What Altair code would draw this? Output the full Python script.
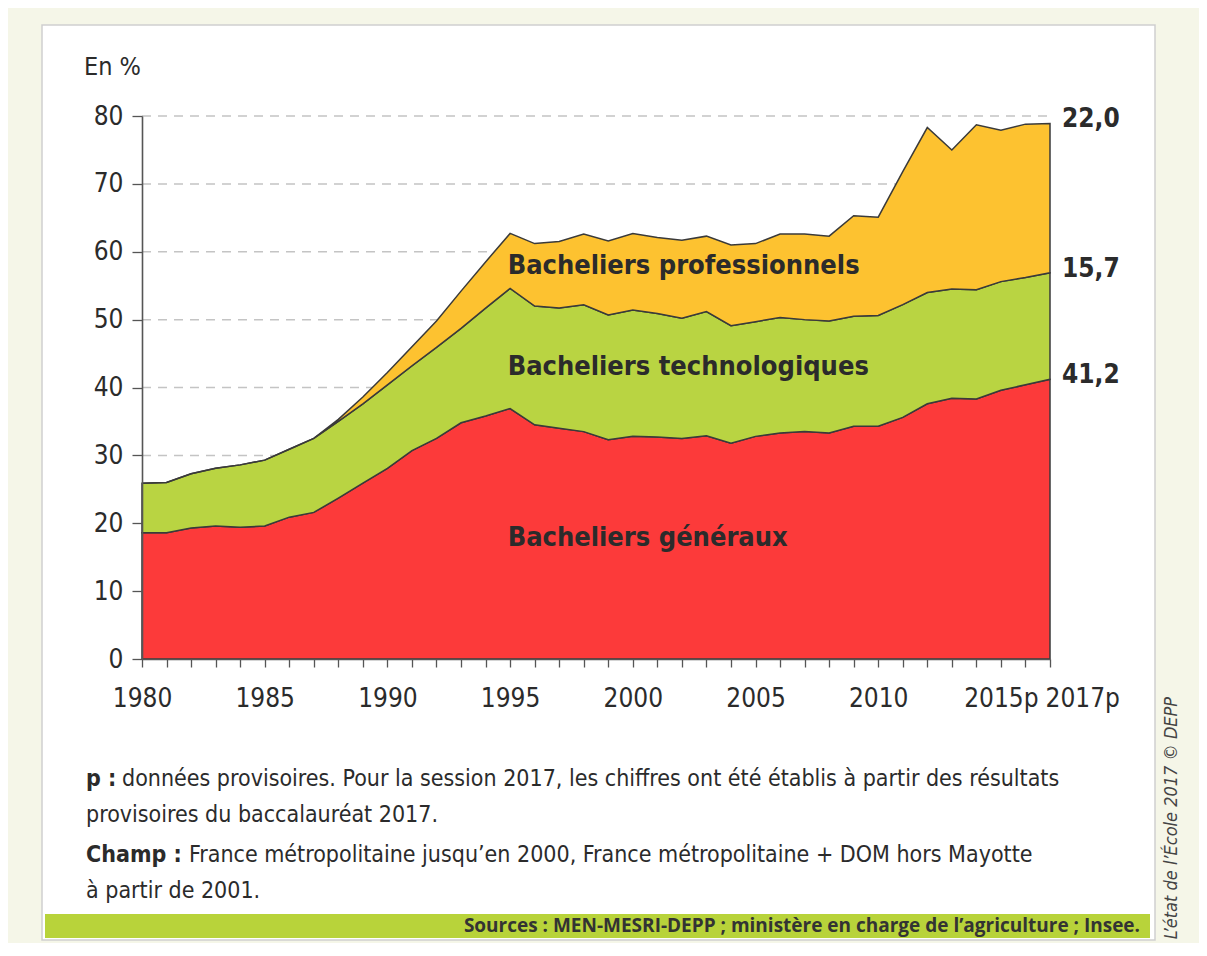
import altair as alt
import pandas as pd

years = list(range(1980, 2018))
generaux = [18.6, 18.6, 19.3, 19.6, 19.4, 19.6, 20.9, 21.6, 23.7, 25.9,
            28.1, 30.7, 32.5, 34.8, 35.8, 36.9, 34.5, 34.0, 33.5, 32.3,
            32.8, 32.7, 32.5, 32.9, 31.8, 32.8, 33.3, 33.5, 33.3, 34.3,
            34.3, 35.6, 37.6, 38.4, 38.3, 39.6, 40.4, 41.2]
technologiques = [7.3, 7.4, 8.0, 8.5, 9.2, 9.7, 10.0, 10.9, 11.3, 11.7,
                  12.3, 12.5, 13.4, 13.9, 15.9, 17.7, 17.5, 17.7, 18.7, 18.4,
                  18.6, 18.2, 17.7, 18.3, 17.3, 16.9, 17.0, 16.5, 16.5, 16.2,
                  16.3, 16.6, 16.4, 16.1, 16.1, 16.0, 15.8, 15.7]
professionnels = [0, 0, 0, 0, 0, 0, 0, 0, 0.3, 1.0,
                  1.8, 2.8, 3.9, 5.5, 6.8, 8.1, 9.2, 9.8, 10.4, 10.9,
                  11.3, 11.2, 11.5, 11.1, 11.9, 11.5, 12.3, 12.6, 12.5, 14.8,
                  14.5, 19.6, 24.3, 20.5, 24.3, 22.3, 22.6, 22.0]

series_names = ["Bacheliers généraux", "Bacheliers technologiques", "Bacheliers professionnels"]
series_colors = ["#fc3a3a", "#b9d442", "#fdc230"]
label_x = [1994.9, 1994.9, 1994.9]
label_y = [17.8, 43.0, 57.9]
y_ticks = list(range(0, 90, 10))
grid_values = list(range(10, 90, 10))

FONT = "DejaVu Sans Condensed, Liberation Sans Narrow, sans-serif"
TXT = "#2b2b2b"
W, H = 908, 543

# long table
rows = []
for i, y in enumerate(years):
    for k, vals in enumerate([generaux, technologiques, professionnels]):
        rows.append({"year": y, "serie": series_names[k], "value": vals[i], "ord": k})
df = pd.DataFrame(rows)

# end labels at the top of each stacked layer
last = [generaux[-1], technologiques[-1], professionnels[-1]]
cum = [sum(last[:k + 1]) for k in range(3)]
end_df = pd.DataFrame({
    "year": [years[-1]] * 3,
    "value": cum,
    "txt": [f"{v:.1f}".replace(".", ",") for v in last],
})
lab_df = pd.DataFrame({"year": label_x, "value": label_y, "txt": series_names})
one = pd.DataFrame({"a": [0]})

xscale = alt.Scale(domain=[years[0], years[-1]], nice=False, zero=False)
yscale = alt.Scale(domain=[0, 80], nice=False)

XAX = alt.Axis(values=years, grid=False, zindex=1,
               labelExpr="datum.value == 2015 ? '2015p' : datum.value == 2017 ? '2017p' : (datum.value % 5 == 0 ? format(datum.value, 'd') : '')",
               labelOverlap=False, labelFlush=False,
               labelAlign={"condition": {"test": "datum.value == 2017", "value": "left"}, "value": "center"},
               labelOffset={"condition": {"test": "datum.value == 2017", "value": -5}, "value": 0},
               tickSize=8, tickColor="#555", tickWidth=1.3,
               domainColor="#555", domainWidth=1.6,
               labelFont=FONT, labelFontSize=26, labelColor=TXT, labelPadding=18)
YAX = alt.Axis(values=y_ticks, grid=False, zindex=1, labelOverlap=False, labelFlush=False,
               tickSize=10, tickColor="#555", tickWidth=1.3,
               domainColor="#555", domainWidth=1.6,
               labelFont=FONT, labelFontSize=26, labelColor=TXT, labelPadding=9)


def X(field):
    return alt.X(field, scale=xscale, title=None, axis=XAX)


def Y(field, **kw):
    return alt.Y(field, scale=yscale, title=None, axis=YAX, **kw)


panel = alt.Chart(one).mark_rect(fill="white", stroke="#cfcfcf", strokeWidth=1.5).encode(
    x=alt.value(-100), x2=alt.value(1013), y=alt.value(-91), y2=alt.value(824))

src_bar = alt.Chart(one).mark_rect(fill="#b8d33a").encode(
    x=alt.value(-97), x2=alt.value(1008), y=alt.value(798), y2=alt.value(822))

grid = alt.Chart(pd.DataFrame({"value": grid_values})).mark_rule(
    color="#c4c4c4", strokeDash=[9, 7], strokeWidth=1.5).encode(
    y=Y("value:Q"), x=alt.value(0), x2=alt.value(912))

areas = alt.Chart(df).mark_area(stroke="#3a3a3a", strokeWidth=1.5, interpolate="linear").encode(
    x=X("year:Q"),
    y=Y("value:Q", stack="zero"),
    color=alt.Color("serie:N", scale=alt.Scale(domain=series_names, range=series_colors), legend=None),
    order=alt.Order("ord:Q", sort="ascending"),
)

labels = alt.Chart(lab_df).mark_text(font=FONT, fontSize=27, fontWeight="bold", color=TXT,
                                     align="left", baseline="middle").encode(
    x=X("year:Q"), y=Y("value:Q"), text="txt:N")

ends = alt.Chart(end_df).mark_text(font=FONT, fontSize=26, fontWeight="bold", color=TXT,
                                   align="left", baseline="middle", dx=12, dy=-4).encode(
    x=X("year:Q"), y=Y("value:Q"), text="txt:N")


def txt(s, x, y, size=23, weight="normal", align="left", angle=0, font=FONT, style="normal", color=TXT):
    return alt.Chart(one).mark_text(font=font, fontSize=size, fontWeight=weight, align=align,
                                    baseline="middle", angle=angle, fontStyle=style, color=color).encode(
        x=alt.value(x), y=alt.value(y), text=alt.value(s))


unit = txt("En %", -58, -49, size=25)
f1a = txt("p :", -56, 663, weight="bold")
f1b = txt("données provisoires. Pour la session 2017, les chiffres ont été établis à partir des résultats", -20, 663)
f2 = txt("provisoires du baccalauréat 2017.", -56, 699)
f3a = txt("Champ :", -56, 739, weight="bold")
f3b = txt("France métropolitaine jusqu’en 2000, France métropolitaine + DOM hors Mayotte", 47, 739)
f4 = txt("à partir de 2001.", -56, 775)
src = txt("Sources : MEN-MESRI-DEPP ; ministère en charge de l’agriculture ; Insee.", 998, 810,
          size=19, weight="bold", align="right", font="Open Sans, Lato, sans-serif", color="#333")
credit = txt("L’état de l’École 2017 © DEPP", 1030, 702, size=18, align="center", angle=270,
             style="italic", color="#444")

chart = alt.layer(panel, src_bar, grid, areas, labels, ends, unit, f1a, f1b, f2, f3a, f3b, f4, src, credit).properties(
    width=W, height=H,
    padding={"left": 134, "top": 108, "right": 149, "bottom": 284},
    autosize=alt.AutoSizeParams(type="none"),
    background="#f5f6e8",
).configure_view(stroke=None)

chart.save("out.html", embed_options={"renderer": "svg", "actions": False})
